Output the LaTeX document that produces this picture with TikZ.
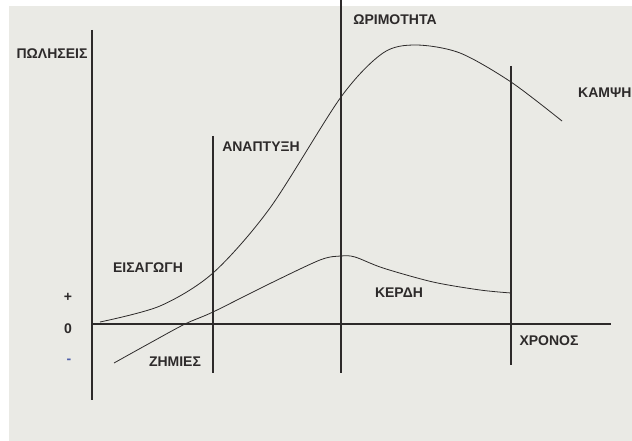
\documentclass[tikz,border=0pt]{standalone}
\usepackage{fontspec}
\setmainfont{Liberation Sans}
\definecolor{paper}{RGB}{234,234,229}
\definecolor{ink}{RGB}{45,42,42}
\begin{document}
\begin{tikzpicture}[x=1pt, y=-1pt,
    lbl/.style={inner sep=0pt, text=ink, font=\fontsize{14}{16}\selectfont\bfseries},
    axis/.style={draw=ink, line width=1.3pt},
    curve/.style={draw=ink, line width=0.8pt}]
\useasboundingbox (0,0) rectangle (632,441);
\fill[paper] (9,6) rectangle (632,441);
% axes and phase limits
\coordinate (Ytop) at (92,30);
\coordinate (Ybot) at (92,400);
\coordinate (X0) at (92,324);
\coordinate (Xend) at (611,324);
\coordinate (B1top) at (213,136);
\coordinate (B1bot) at (213,373);
\coordinate (B2top) at (341,0);
\coordinate (B2bot) at (341,373);
\coordinate (B3top) at (511,66);
\coordinate (B3bot) at (511,365);
\draw[axis](Ytop)--(Ybot);
\draw[axis](X0)--(Xend);
\draw[axis](B1top)--(B1bot);
\draw[axis](B2top)--(B2bot);
\draw[axis](B3top)--(B3bot);
% sales and profit curves
\draw[curve] plot[smooth] coordinates {(100,322) (160,306) (213,273) (270,208)
    (341,97) (383,53) (416,45) (460,53) (511,82) (562,121)};
\draw[curve] plot[smooth] coordinates {(114,363) (150,343) (185,324) (213,312) (267,285)
    (320,260) (341,256) (355,257) (383,268) (433,282) (480,290) (511,293)};
% labels
\node(sales)[lbl] at (52,54){ΠΩΛΗΣΕΙΣ};
\node(growth)[lbl] at (261,147){ΑΝΑΠΤΥΞΗ};
\node(mature)[lbl] at (395,20){ΩΡΙΜΟΤΗΤΑ};
\node(decline)[lbl, anchor=west] at (578,93){ΚΑΜΨΗ};
\node(intro)[lbl] at (148,268){ΕΙΣΑΓΩΓΗ};
\node(plus)[lbl] at (68,297){+};
\node(zero)[lbl] at (68,329){0};
\node(minus)[lbl, text={rgb,255:red,80;green,96;blue,170}] at (69,361){-};
\node(loss)[lbl] at (175,362){ΖΗΜΙΕΣ};
\node(profit)[lbl] at (399,293){ΚΕΡΔΗ};
\node(time)[lbl] at (549,341){ΧΡΟΝΟΣ};
\end{tikzpicture}
\end{document}
